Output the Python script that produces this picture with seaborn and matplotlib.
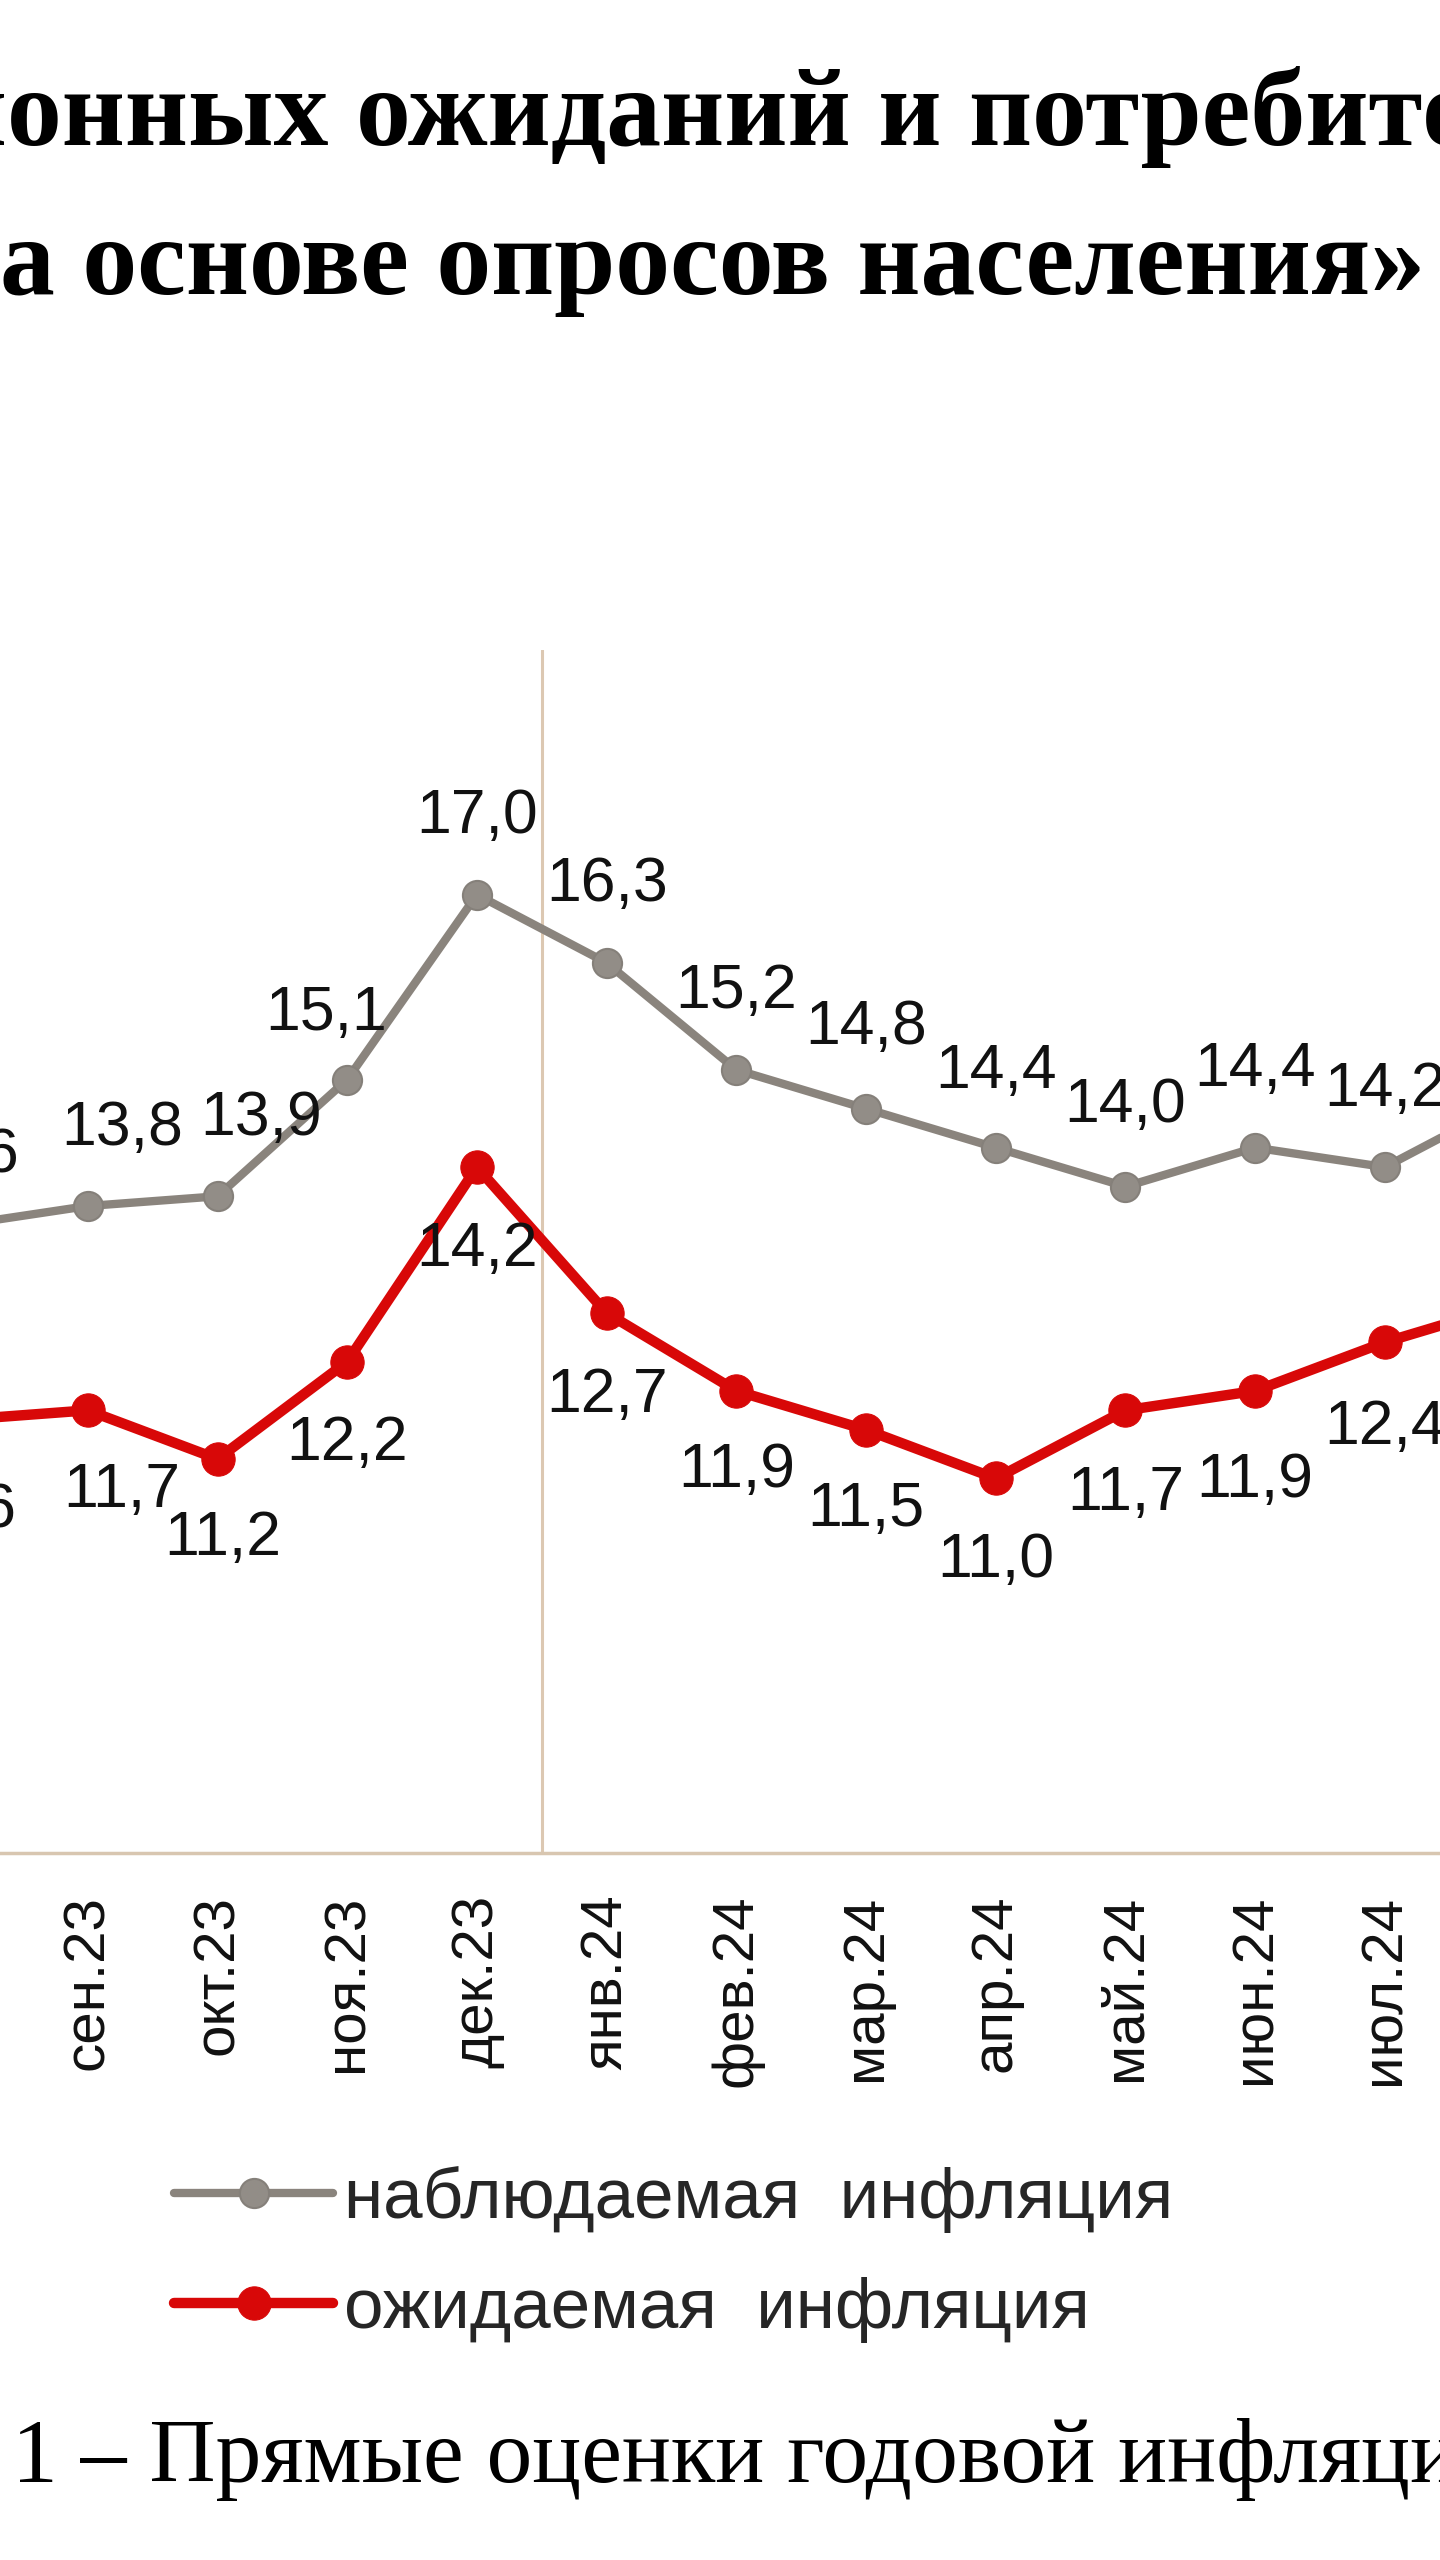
import matplotlib
matplotlib.use("Agg")
import matplotlib.pyplot as plt
from matplotlib import font_manager as fm
import seaborn as sns
import pandas as pd
import numpy as np

# ---------------- data ----------------
months = ["авг.23", "сен.23", "окт.23", "ноя.23", "дек.23", "янв.24", "фев.24",
          "мар.24", "апр.24", "май.24", "июн.24", "июл.24", "авг.24"]
observed = [13.6, 13.8, 13.9, 15.1, 17.0, 16.3, 15.2, 14.8, 14.4, 14.0, 14.4, 14.2, 14.9]
expected = [11.6, 11.7, 11.2, 12.2, 14.2, 12.7, 11.9, 11.5, 11.0, 11.7, 11.9, 12.4, 12.8]
series_names = ["наблюдаемая  инфляция", "ожидаемая  инфляция"]
title_line1_cut = "инфляци"
title_line1 = "онных ожиданий и потребительских"
title_line2 = "а основе опросов населения»"
caption = "1 – Прямые оценки годовой инфляции населением"

# label nudges (pixels) – styling only
obs_dx = [0, 34, 44, -21, 0, 0, 0, 0, 0, 0, 0, 0, 0]
obs_dy = [70, 78, 78, 66, 78, 78, 78, 81, 76, 81, 78, 78, 78]
exp_dx = [0, 34, 5, 0, 0, 0, 0, 0, 0, 0, 0, 0, 0]
exp_dy = [-90, -80, -80, -82, -82, -82, -80, -80, -82, -83, -90, -85, -82]

W, H = 1440, 2560
sns.set_theme(style="white")
names = {f.name for f in fm.fontManager.ttflist}
narrow = "Liberation Sans Narrow" in names
label_family = ["Liberation Sans Narrow"] if narrow else ["Liberation Sans"]
label_size = 53 if narrow else 45
legend_size = 62 if narrow else 51
plt.rcParams["font.family"] = ["Liberation Sans", "DejaVu Sans"]

fig = plt.figure(figsize=(W / 100, H / 100), dpi=100)
fig.patch.set_facecolor("white")

ax_bottom_px, ax_top_px = 1853, 650
ax = fig.add_axes([0, 1 - ax_bottom_px / H, 1, (ax_bottom_px - ax_top_px) / H])
ax.set_facecolor("white")

idx = np.arange(len(months))
gray = "#8a847d"
red = "#d80808"

df_obs = pd.DataFrame({"i": idx, "v": observed})
df_exp = pd.DataFrame({"i": idx, "v": expected})
sns.lineplot(data=df_obs, x="i", y="v", ax=ax, color=gray, linewidth=6,
             marker="o", markersize=21, markerfacecolor="#928d87",
             markeredgecolor="#85807a", markeredgewidth=1.5, label=series_names[0])
sns.lineplot(data=df_exp, x="i", y="v", ax=ax, color=red, linewidth=7.5,
             marker="o", markersize=24, markerfacecolor=red,
             markeredgecolor=red, label=series_names[1])
if ax.get_legend() is not None:
    ax.get_legend().remove()

# separator between years
ax.axvline(4.5, ymin=0, ymax=1, color="#dcc8b2", lw=2.2, zorder=0)

# data labels
def fmt(v):
    return f"{v:.1f}".replace(".", ",")

for i, v in enumerate(observed):
    ax.annotate(fmt(v), (i, v), xytext=(obs_dx[i], obs_dy[i]), textcoords="offset pixels",
                ha="center", va="center", fontsize=label_size, family=label_family,
                color="#111111", annotation_clip=False)
for i, v in enumerate(expected):
    ax.annotate(fmt(v), (i, v), xytext=(exp_dx[i], exp_dy[i]), textcoords="offset pixels",
                ha="center", va="center", fontsize=label_size, family=label_family,
                color="#111111", annotation_clip=False)

# axes styling
for s in ["left", "right", "top"]:
    ax.spines[s].set_visible(False)
ax.spines["bottom"].set_color("#d8c6b0")
ax.spines["bottom"].set_linewidth(2.5)
ax.set_yticks([])
ax.set_xticks(idx)
ax.set_xticklabels(months, rotation=90, fontsize=42, family=["Liberation Sans"], color="#111111")
ax.set_xticks(np.arange(len(months) + 1) - 0.5, minor=True)
ax.tick_params(axis="x", which="major", length=0, pad=30)
ax.tick_params(axis="x", which="minor", length=15, width=1.5, color="#cdb9a2", direction="out")
ax.set_xlabel("")
ax.set_ylabel("")
ax.grid(False)
ax.set_xlim(0.323, 11.425)
ax.set_ylim(7.15, 19.515)

# title (cropped)
tfont = dict(family=["Liberation Serif"], fontweight="bold", fontsize=79, color="black")
fig.text(7 / W, 1 - 145 / H, title_line1_cut, ha="right", va="baseline", **tfont)
fig.text(7 / W, 1 - 145 / H, title_line1, ha="left", va="baseline", **tfont)
fig.text(0 / W, 1 - 294 / H, title_line2, ha="left", va="baseline", **tfont)

# legend
handles, labels = ax.get_legend_handles_labels()
em = legend_size * 100 / 72
leg = fig.legend(handles, labels, loc="upper left",
                 bbox_to_anchor=(174 / W, 1 - 2166 / H), frameon=False,
                 borderpad=0, borderaxespad=0, handlelength=159 / em,
                 handletextpad=11 / em, labelspacing=0.62,
                 prop=fm.FontProperties(family=label_family, size=legend_size))

# caption
fig.text(12 / W, 1 - 2482 / H, caption, ha="left", va="baseline",
         family=["Liberation Serif"], fontsize=66, color="black")

fig.savefig("out.png", dpi=100, facecolor="white")
